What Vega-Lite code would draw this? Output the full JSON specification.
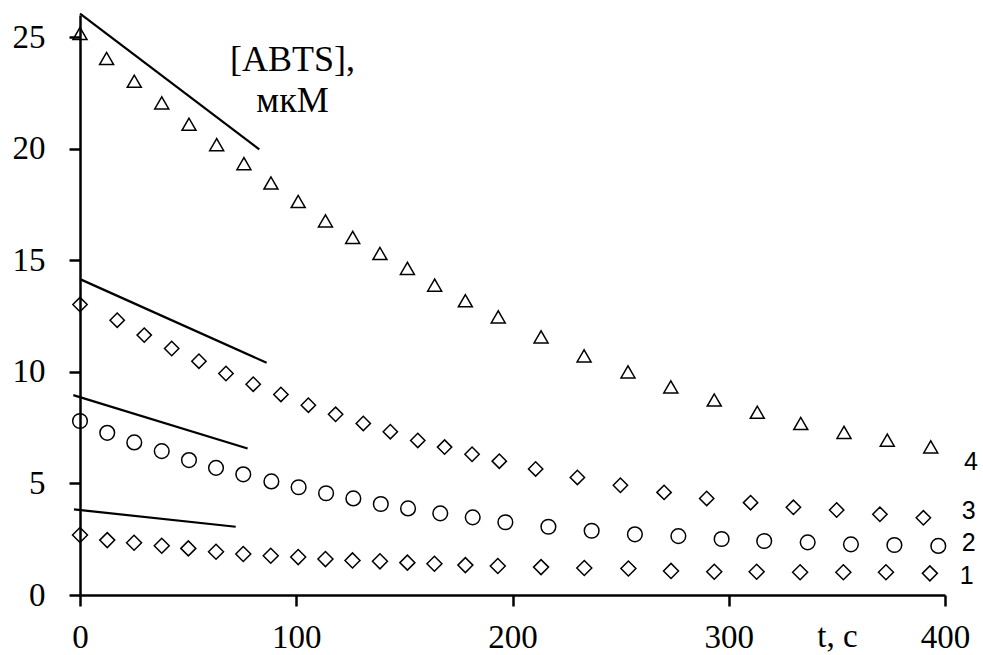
{
  "$schema": "https://vega.github.io/schema/vega-lite/v6.json",
  "width": 865,
  "height": 580,
  "autosize": {"type": "none"},
  "padding": {"left": 80, "top": 15, "right": 38, "bottom": 60},
  "background": "white",
  "config": {
    "view": {"stroke": null},
    "axis": {
      "grid": false,
      "domainColor": "black",
      "domainWidth": 2.5,
      "tickColor": "black",
      "tickWidth": 2.5,
      "tickSize": 11,
      "labelFont": "Liberation Serif",
      "labelFontSize": 33,
      "labelColor": "black",
      "titleFont": "Liberation Serif",
      "titleFontWeight": "normal",
      "titleColor": "black",
      "labelFlush": false,
      "labelOverlap": false
    }
  },
  "datasets": {
    "pts": [
      {"t": 0, "v": 25.17, "s": 4}, {"t": 12.3, "v": 24.05, "s": 4}, {"t": 25.1, "v": 23.03, "s": 4}, {"t": 37.8, "v": 22.06, "s": 4}, {"t": 50.4, "v": 21.10, "s": 4}, {"t": 63.2, "v": 20.19, "s": 4}, {"t": 75.8, "v": 19.34, "s": 4}, {"t": 88.3, "v": 18.47, "s": 4}, {"t": 100.9, "v": 17.64, "s": 4}, {"t": 113.5, "v": 16.77, "s": 4}, {"t": 126.1, "v": 16.03, "s": 4}, {"t": 138.7, "v": 15.31, "s": 4}, {"t": 151.4, "v": 14.64, "s": 4}, {"t": 164.0, "v": 13.89, "s": 4}, {"t": 178.2, "v": 13.19, "s": 4}, {"t": 193.4, "v": 12.47, "s": 4}, {"t": 213.2, "v": 11.57, "s": 4}, {"t": 233.1, "v": 10.72, "s": 4}, {"t": 253.4, "v": 10.0, "s": 4}, {"t": 273.2, "v": 9.33, "s": 4}, {"t": 293.3, "v": 8.74, "s": 4}, {"t": 313.2, "v": 8.19, "s": 4}, {"t": 333.3, "v": 7.69, "s": 4}, {"t": 353.3, "v": 7.29, "s": 4}, {"t": 373.3, "v": 6.94, "s": 4}, {"t": 393.4, "v": 6.64, "s": 4},
      {"t": 0, "v": 13.02, "s": 3}, {"t": 17.2, "v": 12.32, "s": 3}, {"t": 29.7, "v": 11.65, "s": 3}, {"t": 42.4, "v": 11.05, "s": 3}, {"t": 55.0, "v": 10.48, "s": 3}, {"t": 67.5, "v": 9.93, "s": 3}, {"t": 80.1, "v": 9.45, "s": 3}, {"t": 92.9, "v": 8.99, "s": 3}, {"t": 105.6, "v": 8.51, "s": 3}, {"t": 118.2, "v": 8.10, "s": 3}, {"t": 131.0, "v": 7.69, "s": 3}, {"t": 143.5, "v": 7.32, "s": 3}, {"t": 156.2, "v": 6.93, "s": 3}, {"t": 168.6, "v": 6.63, "s": 3}, {"t": 181.3, "v": 6.31, "s": 3}, {"t": 193.9, "v": 6.00, "s": 3}, {"t": 210.7, "v": 5.65, "s": 3}, {"t": 230.0, "v": 5.27, "s": 3}, {"t": 249.9, "v": 4.92, "s": 3}, {"t": 270.1, "v": 4.60, "s": 3}, {"t": 289.8, "v": 4.33, "s": 3}, {"t": 310.1, "v": 4.14, "s": 3}, {"t": 329.9, "v": 3.93, "s": 3}, {"t": 349.9, "v": 3.81, "s": 3}, {"t": 369.9, "v": 3.62, "s": 3}, {"t": 390.0, "v": 3.46, "s": 3},
      {"t": 0, "v": 7.80, "s": 2}, {"t": 12.6, "v": 7.27, "s": 2}, {"t": 25.1, "v": 6.84, "s": 2}, {"t": 37.8, "v": 6.45, "s": 2}, {"t": 50.4, "v": 6.05, "s": 2}, {"t": 62.9, "v": 5.70, "s": 2}, {"t": 75.5, "v": 5.41, "s": 2}, {"t": 88.5, "v": 5.09, "s": 2}, {"t": 101.1, "v": 4.83, "s": 2}, {"t": 113.8, "v": 4.56, "s": 2}, {"t": 126.4, "v": 4.33, "s": 2}, {"t": 139.1, "v": 4.08, "s": 2}, {"t": 151.7, "v": 3.88, "s": 2}, {"t": 166.6, "v": 3.66, "s": 2}, {"t": 181.6, "v": 3.48, "s": 2}, {"t": 196.7, "v": 3.26, "s": 2}, {"t": 216.6, "v": 3.06, "s": 2}, {"t": 236.6, "v": 2.88, "s": 2}, {"t": 256.6, "v": 2.72, "s": 2}, {"t": 276.7, "v": 2.64, "s": 2}, {"t": 296.7, "v": 2.51, "s": 2}, {"t": 316.4, "v": 2.42, "s": 2}, {"t": 336.5, "v": 2.36, "s": 2}, {"t": 356.5, "v": 2.27, "s": 2}, {"t": 376.6, "v": 2.24, "s": 2}, {"t": 396.9, "v": 2.20, "s": 2},
      {"t": 0, "v": 2.69, "s": 1}, {"t": 12.6, "v": 2.46, "s": 1}, {"t": 25.0, "v": 2.34, "s": 1}, {"t": 37.8, "v": 2.21, "s": 1}, {"t": 50.1, "v": 2.09, "s": 1}, {"t": 62.9, "v": 1.94, "s": 1}, {"t": 75.5, "v": 1.84, "s": 1}, {"t": 88.2, "v": 1.76, "s": 1}, {"t": 100.9, "v": 1.70, "s": 1}, {"t": 113.5, "v": 1.61, "s": 1}, {"t": 126.0, "v": 1.55, "s": 1}, {"t": 138.7, "v": 1.51, "s": 1}, {"t": 151.4, "v": 1.45, "s": 1}, {"t": 163.9, "v": 1.40, "s": 1}, {"t": 178.2, "v": 1.34, "s": 1}, {"t": 193.2, "v": 1.30, "s": 1}, {"t": 213.2, "v": 1.25, "s": 1}, {"t": 233.2, "v": 1.21, "s": 1}, {"t": 253.6, "v": 1.19, "s": 1}, {"t": 273.3, "v": 1.08, "s": 1}, {"t": 293.3, "v": 1.04, "s": 1}, {"t": 312.9, "v": 1.04, "s": 1}, {"t": 333.0, "v": 1.02, "s": 1}, {"t": 353.0, "v": 1.02, "s": 1}, {"t": 372.7, "v": 1.02, "s": 1}, {"t": 393.0, "v": 0.97, "s": 1}
    ],
    "fits": [
      {"t": 0, "v": 26.06, "s": 4}, {"t": 82.9, "v": 19.98, "s": 4},
      {"t": 0, "v": 14.16, "s": 3}, {"t": 86.3, "v": 10.41, "s": 3},
      {"t": -3.1, "v": 8.96, "s": 2}, {"t": 77.5, "v": 6.57, "s": 2},
      {"t": -2.8, "v": 3.84, "s": 1}, {"t": 72.0, "v": 3.06, "s": 1}
    ],
    "labels": [
      {"t": 412, "v": 5.97, "name": "4"},
      {"t": 411, "v": 3.75, "name": "3"},
      {"t": 411, "v": 2.35, "name": "2"},
      {"t": 410, "v": 0.87, "name": "1"}
    ]
  },
  "layer": [
    {
      "data": {"name": "fits"},
      "mark": {"type": "line", "color": "black", "strokeWidth": 2.2, "clip": false},
      "encoding": {
        "x": {"field": "t", "type": "quantitative", "scale": {"domain": [0, 400], "nice": false, "zero": false},
          "axis": {"values": [0, 100, 200, 300, 400], "title": "t, c", "titleFontSize": 33, "titleAngle": 0, "titleX": 757, "titleY": 51, "titleAlign": "center", "titleBaseline": "alphabetic", "labelPadding": 15}},
        "y": {"field": "v", "type": "quantitative", "scale": {"domain": [0, 26], "nice": false, "zero": true},
          "axis": {"values": [0, 5, 10, 15, 20, 25], "title": ["[ABTS],", "мкМ"], "titleFontSize": 36, "titleLineHeight": 41, "titleAngle": 0, "titleX": 212, "titleY": 55, "titleAlign": "center", "titleBaseline": "alphabetic", "labelPadding": 24}},
        "detail": {"field": "s", "type": "nominal"}
      }
    },
    {
      "data": {"name": "pts"},
      "mark": {"type": "point", "filled": false, "color": "black", "strokeWidth": 1.5, "opacity": 1},
      "encoding": {
        "x": {"field": "t", "type": "quantitative"},
        "y": {"field": "v", "type": "quantitative"},
        "shape": {"field": "s", "type": "nominal", "scale": {"domain": [1, 2, 3, 4], "range": ["diamond", "circle", "diamond", "triangle-up"]}, "legend": null},
        "size": {"field": "s", "type": "nominal", "scale": {"domain": [1, 2, 3, 4], "range": [225, 196, 225, 216]}, "legend": null}
      }
    },
    {
      "data": {"name": "labels"},
      "mark": {"type": "text", "font": "Liberation Sans", "fontSize": 25, "color": "black", "align": "center", "baseline": "middle"},
      "encoding": {
        "x": {"field": "t", "type": "quantitative"},
        "y": {"field": "v", "type": "quantitative"},
        "text": {"field": "name", "type": "nominal"}
      }
    }
  ]
}
